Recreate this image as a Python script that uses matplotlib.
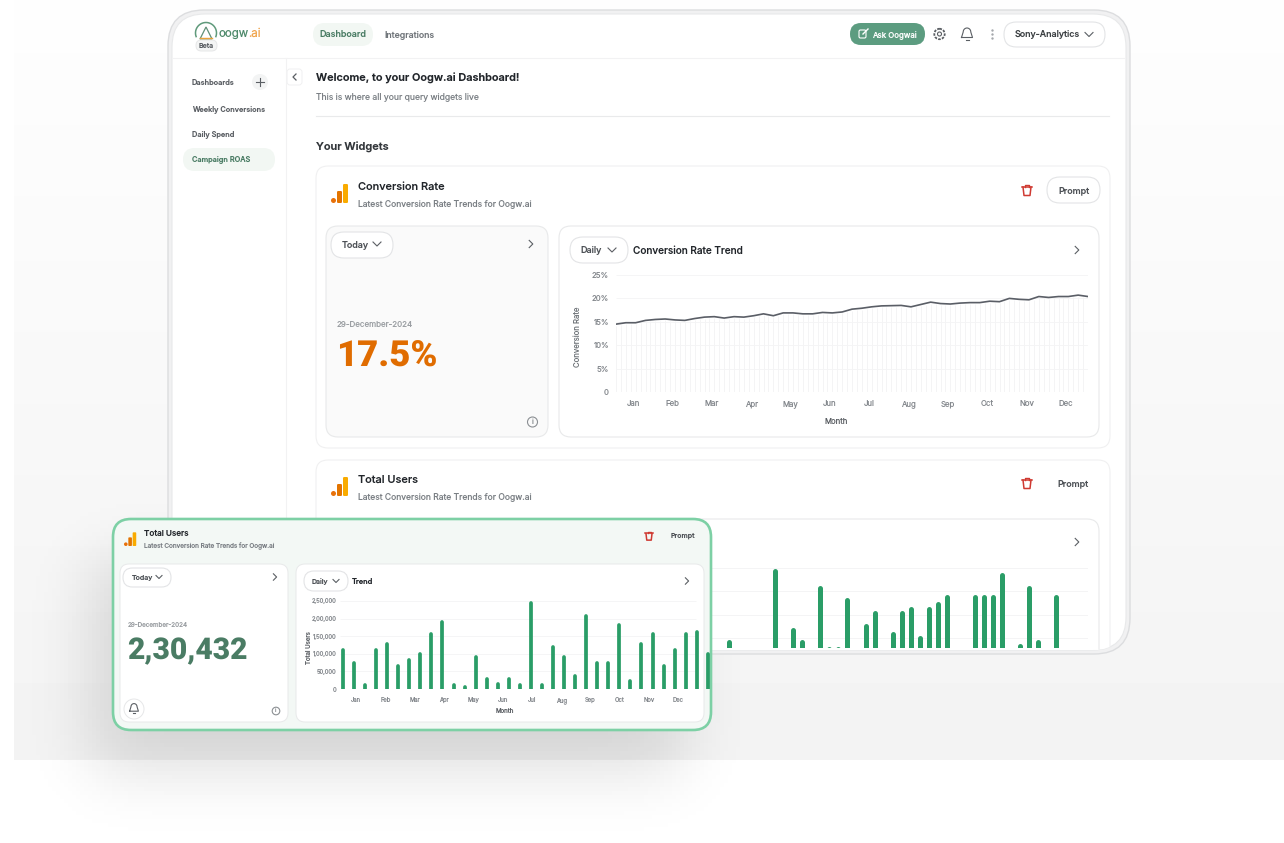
import math
import numpy as np
import matplotlib
matplotlib.use("Agg")
import matplotlib.pyplot as plt
from matplotlib.patches import FancyBboxPatch, Circle

plt.rcParams['font.family'] = ['Inter', 'DejaVu Sans']
plt.rcParams['text.hinting'] = 'no_autohint'

# data
months = ["Jan", "Feb", "Mar", "Apr", "May", "Jun", "Jul", "Aug", "Sep", "Oct", "Nov", "Dec"]
conversion_rate = [14.5, 14.8, 14.8, 15.3, 15.5, 15.6, 15.4, 15.3, 15.7, 16.0, 16.1, 15.8, 16.1,
                   16.0, 16.3, 16.7, 16.3, 16.9, 16.9, 16.7, 16.7, 17.0, 16.9, 17.1, 17.7, 17.9,
                   18.2, 18.4, 18.45, 18.5, 18.2, 18.7, 19.2, 18.9, 18.8, 19.0, 19.1, 19.1, 19.4,
                   19.3, 20.0, 19.8, 19.7, 20.4, 20.2, 20.4, 20.4, 20.7, 20.4]
rate_ticks = [0, 5, 10, 15, 20, 25]
rate_tick_labels = ["0", "5%", "10%", "15%", "20%", "25%"]

users_front = [115000, 80000, 17000, 115000, 132000, 70000, 88000, 105000, 160000, 195000, 15000,
               10000, 97000, 33000, 20000, 33000, 15000, 248000, 15000, 124000, 97000, 42000,
               213000, 80000, 80000, 186000, 27000, 133000, 160000, 70000, 115000, 160000,
               168000, 105000]
users_ticks = [0, 50000, 100000, 150000, 200000, 250000]
users_tick_labels = ["0", "50,000", "1,00,000", "1,50,000", "2,00,000", "2,50,000"]

# chart behind the floating card, 0 where the bar is hidden
users_back = [0, 0, 0, 0, 0, 0, 0, 0, 0, 0, 0, 0, 96000, 0, 0, 0, 0, 248000, 0, 122000, 96000, 0,
              212000, 81000, 81000, 186000, 0, 130000, 158000, 0, 113000, 158000, 167000, 105000,
              167000, 177000, 194000, 0, 0, 194000, 194000, 194000, 239000, 0, 88000, 212000,
              96000, 0, 194000, 0, 0, 0]

W, H = 1284, 843
GREEN = "#4a7c64"
DARK = "#22262b"
MID = "#5b5f64"
SOFT = "#7b8085"
EDGE = "#e9eaeb"
BAR = "#2a9d67"
fig = plt.figure(figsize=(W / 100, H / 100), dpi=100, facecolor="white")


def layer(z):
    a = fig.add_axes([0, 0, 1, 1], zorder=z)
    a.set_xlim(0, W)
    a.set_ylim(H, 0)
    a.axis("off")
    a.patch.set_alpha(0)
    return a


def chart_axes(x0, y0, x1, y1, z):
    a = fig.add_axes([x0 / W, 1 - y1 / H, (x1 - x0) / W, (y1 - y0) / H], zorder=z)
    a.patch.set_alpha(0)
    for s in a.spines.values():
        s.set_visible(False)
    return a


def box(a, x0, y0, x1, y1, r, fc="white", ec=EDGE, lw=0.8):
    p = FancyBboxPatch((x0, y0), x1 - x0, y1 - y0, boxstyle=f"round,pad=0,rounding_size={r}",
                       fc=fc, ec=ec, lw=lw)
    a.add_patch(p)
    return p


def txt(a, x, y, s, px, color=DARK, weight="normal", ha="left", **kw):
    a.text(x, y + 0.6, s, fontsize=px * 0.72, color=color, weight=weight, ha=ha, va="center", **kw)


def chev_down(a, x, y, s=4, color=MID):
    a.plot([x - s, x, x + s], [y - s / 2, y + s / 2, y - s / 2], color=color, lw=0.8)


def chev_right(a, x, y, s=3.6, color=MID):
    a.plot([x - s / 2, x + s / 2, x - s / 2], [y - s, y, y + s], color=color, lw=0.8)


def ga_icon(a, x, y, k=1.0):
    # x, y = bottom left of the little bars icon
    a.add_patch(Circle((x + 2.5 * k, y - 2.5 * k), 2.5 * k, fc="#e8710a", ec="none"))
    box(a, x + 6 * k, y - 12 * k, x + 11 * k, y, 1.2 * k, fc="#e37400", ec="none")
    box(a, x + 12 * k, y - 19 * k, x + 17 * k, y, 1.2 * k, fc="#f9ab00", ec="none")


def trash(a, x, y, k=1.0, color="#cf3a32"):
    a.plot([x - 4 * k, x - 3 * k, x + 3 * k, x + 4 * k], [y - 3 * k, y + 5.5 * k, y + 5.5 * k, y - 3 * k],
           color=color, lw=1.1)
    a.plot([x - 5 * k, x + 5 * k], [y - 3.5 * k, y - 3.5 * k], color=color, lw=1.1)
    a.plot([x - 2 * k, x - 2 * k, x + 2 * k, x + 2 * k], [y - 3.5 * k, y - 5 * k, y - 5 * k, y - 3.5 * k],
           color=color, lw=1.0)


def bell(a, x, y, k=1.0, color=MID):
    t = np.linspace(math.pi, 0, 20)
    xs = list(x + 3.8 * k * np.cos(t))
    ys = list(y - 1.5 * k - 4 * k * np.sin(t))
    a.plot([x - 5.5 * k] + xs + [x + 5.5 * k, x - 5.5 * k],
           [y + 4 * k] + ys + [y + 4 * k, y + 4 * k], color=color, lw=0.8)
    a.plot([x - 1.5 * k, x + 1.5 * k], [y + 6 * k, y + 6 * k], color=color, lw=0.8)


def info(a, x, y, r=5):
    a.add_patch(Circle((x, y), r, fc="none", ec="#8b8f93", lw=0.8))
    txt(a, x, y - 0.6, "i", r * 1.5, "#8b8f93", ha="center")


def pill(a, x0, y0, x1, y1, label, px, tx):
    box(a, x0, y0, x1, y1, (y1 - y0) / 2 - 0.1, fc="white", ec="#e3e4e6", lw=0.8)
    txt(a, tx, (y0 + y1) / 2, label, px, "#4d5156", "medium")


# page background, shadow and device frame
bg = layer(0)
grad = np.linspace(0.995, 0.953, 128).reshape(-1, 1)
bg.imshow(grad, extent=(14, W, 760, 0), cmap="gray", vmin=0, vmax=1, aspect="auto", zorder=0)
gx, gy = np.meshgrid(np.arange(0, 800, 4.0), np.arange(460, H, 4.0))
erf = np.vectorize(math.erf)
s = 45.0
shade = 0.25 * (erf((gx - 90) / s) - erf((gx - 680) / s)) * (erf((gy - 560) / s) - erf((gy - 770) / s))
rgba = np.zeros(shade.shape + (4,))
rgba[..., 3] = 0.13 * shade
bg.imshow(rgba, extent=(0, 800, H, 460), aspect="auto", zorder=1)
bg.set_xlim(0, W)
bg.set_ylim(H, 0)

box(bg, 168, 10, 1130, 654, 36, fc="#f1f1f2", ec="#dcdddf", lw=1.0)
device = box(bg, 172, 14, 1126, 650, 33, fc="white", ec="#e8e9ea", lw=0.8)

# top bar
bg.plot([173, 1125], [57.5, 57.5], color="#f2f2f3", lw=0.8)
bg.plot([285.5, 285.5], [58, 649], color="#f2f2f3", lw=0.8)
t = np.linspace(math.radians(200), math.radians(-20), 40)
bg.plot(206 + 10.5 * np.cos(t), 33 - 10.5 * np.sin(t), color="#5f9a7b", lw=1.1)
bg.fill([200, 206, 212], [39, 27, 39], fc="white", ec="#5f8f76", lw=0.9)
bg.plot([200, 212], [38, 38], color="#e9a23b", lw=1.0)
txt(bg, 219, 33, "oogw", 11.5, "#4e8a6b")
txt(bg, 248.5, 33, ".ai", 11.5, "#f0a44c")
box(bg, 196, 40, 217, 51, 5.4, fc="#f4f5f5", ec="#e6e7e8", lw=0.7)
txt(bg, 206.5, 45.5, "Beta", 7, MID, "medium", ha="center")

box(bg, 313, 23, 373, 46, 11.4, fc="#f2f7f3", ec="none")
txt(bg, 343, 34, "Dashboard", 9, GREEN, "medium", ha="center")
txt(bg, 384, 34.4, "Integrations", 8.8, "#70757a", "medium")

box(bg, 850, 23, 925, 45, 10.9, fc="#5c9c80", ec="none")
box(bg, 859, 30, 866, 38, 1.5, fc="none", ec="white", lw=0.8)
bg.plot([863, 868], [34, 29], color="white", lw=1.0)
txt(bg, 872, 33.5, "Ask Oogwai", 7.8, "white", "medium")
bg.add_patch(Circle((939.5, 34), 5.2, fc="none", ec=MID, lw=1.3, ls=(0, (1.4, 0.7))))
bg.add_patch(Circle((939.5, 34), 2, fc="none", ec=MID, lw=0.8))
bell(bg, 967, 33.5)
bg.scatter([992, 992, 992], [30, 34, 38], s=3, color="#a5a8ac", linewidths=0)
box(bg, 1004, 22, 1105, 47, 12.4, fc="white", ec="#e3e4e6", lw=0.8)
txt(bg, 1015, 34, "Sony-Analytics", 9, "#3c4043", "medium")
chev_down(bg, 1089, 34.5)

# side menu
txt(bg, 192, 82, "Dashboards", 7.4, MID, "medium")
bg.add_patch(Circle((260, 82), 8, fc="#f3f4f4", ec="none"))
bg.plot([256, 264], [82, 82], color=MID, lw=0.8)
bg.plot([260, 260], [78, 86], color=MID, lw=0.8)
txt(bg, 192, 109, "Weekly Conversions", 7.4, MID, "medium")
txt(bg, 192, 134.5, "Daily Spend", 7.4, MID, "medium")
box(bg, 183, 148, 275, 171, 11.4, fc="#f2f7f3", ec="none")
txt(bg, 192, 159.5, "Campaign ROAS", 7.4, GREEN, "medium")
box(bg, 287, 69, 302, 85, 3, fc="white", ec="#f0f0f1", lw=0.7)
bg.plot([296, 293, 296], [74, 77, 80], color=MID, lw=0.9)

txt(bg, 316, 78.2, "Welcome, to your Oogw.ai Dashboard!", 10.9, DARK, "semibold")
txt(bg, 316, 95.8, "This is where all your query widgets live", 8.6, SOFT)
bg.plot([316, 1109], [115.5, 115.5], color=EDGE, lw=0.8)
txt(bg, 316, 146.7, "Your Widgets", 11, "#33373b", "semibold")

# first widget
box(bg, 316, 166, 1110, 448, 12, ec="#f0f0f1")
ga_icon(bg, 331, 203)
txt(bg, 358, 186.2, "Conversion Rate", 11, DARK, "medium")
txt(bg, 358, 203, "Latest Conversion Rate Trends for Oogw.ai", 8.5, SOFT)
trash(bg, 1027, 190)
pill(bg, 1047, 177, 1100, 203, "Prompt", 9, 1058)
box(bg, 326, 226, 548, 437, 12, fc="#fafafa", ec="#e8e9ea")
pill(bg, 331, 232, 393, 258, "Today", 9, 342)
chev_down(bg, 377, 244)
chev_right(bg, 531, 244)
txt(bg, 337, 324, "29-December-2024", 8, "#9a9ea2")
txt(bg, 336, 356, "17.5%", 36.5, "#e06c00", "black", family="Roboto")
info(bg, 532.5, 422)
box(bg, 559, 226, 1099, 437, 12, ec="#e8e9ea")
pill(bg, 570, 237, 628, 263, "Daily", 9, 580)
chev_down(bg, 612, 250)
txt(bg, 633, 250.2, "Conversion Rate Trend", 10, DARK, "medium")
chev_right(bg, 1077, 250)

# second widget, cut off by the frame
w2 = box(bg, 316, 460, 1110, 680, 12, ec="#f0f0f1")
w2.set_clip_path(device)
ga_icon(bg, 331, 496)
txt(bg, 358, 479.2, "Total Users", 11, DARK, "medium")
txt(bg, 358, 496, "Latest Conversion Rate Trends for Oogw.ai", 8.5, SOFT)
trash(bg, 1027, 483)
txt(bg, 1073, 483, "Prompt", 9, "#4d5156", "medium", ha="center")
w3 = box(bg, 559, 519, 1099, 680, 12, ec="#e8e9ea")
w3.set_clip_path(device)
chev_right(bg, 1077, 542)

# conversion rate line chart
ax1 = chart_axes(616, 275, 1088, 392, 1)
xs = np.arange(len(conversion_rate))
vals = np.array(conversion_rate)
ax1.vlines(xs, 0, vals - 0.3, color="#f3f3f4", lw=0.6)
ax1.vlines(xs[:-1] + 0.5, 0, (vals[:-1] + vals[1:]) / 2 - 0.3, color="#f3f3f4", lw=0.6)
ax1.hlines(rate_ticks, 0, len(xs) - 1, color="#f4f4f5", lw=0.6)
ax1.plot(xs, vals, color="#5a5e66", lw=1.2)
ax1.set_xlim(0, len(xs) - 1)
ax1.set_ylim(0, 25)
ax1.set_yticks(rate_ticks, rate_tick_labels)
ax1.set_xticks(np.linspace(1.73, 45.76, 12), months)
ax1.tick_params(length=0, labelsize=5.6, labelcolor="#85898e", pad=5)
ax1.tick_params(axis="x", pad=6)
ax1.set_xlabel("Month", fontsize=5.6, color=MID)
ax1.xaxis.set_label_coords((836 - 616) / 472, -0.22)
ax1.set_ylabel("Conversion Rate", fontsize=5.6, color="#70757a")
ax1.yaxis.set_label_coords((582 - 616) / 472, 0.47)

# bars in the card behind, only the upper part fits in the frame
ax2 = chart_axes(616, 568, 1088, 648, 1)
back = np.array(users_back)
ax2.hlines(users_ticks[2:], -0.5, 51.5, color="#f4f4f5", lw=0.7)
ax2.vlines(np.arange(52)[back > 0], 0, back[back > 0] - 5000, color=BAR, lw=3.6, capstyle="round")
ax2.set_xlim(-0.5, 51.5)
ax2.set_ylim(79000, 250000)
ax2.set_xticks([])
ax2.set_yticks([])

# floating card
top = layer(2)
box(top, 113, 519, 711, 730, 18, fc="#f3f8f5", ec="#7dd0a5", lw=1.9)
ga_icon(top, 124, 546, 0.72)
txt(top, 144, 533, "Total Users", 8.2, DARK, "medium")
txt(top, 144, 545.5, "Latest Conversion Rate Trends for Oogw.ai", 6.4, SOFT)
trash(top, 649, 536, 0.75)
txt(top, 683, 535.5, "Prompt", 7, "#4d5156", "medium", ha="center")
box(top, 120, 564, 288, 722, 9, ec="#e8e9ea", lw=0.7)
pill(top, 123, 568, 171, 587, "Today", 7, 132)
chev_down(top, 159, 577, 3)
chev_right(top, 275, 577, 3.2)
txt(top, 128, 625, "29-December-2024", 6.3, "#9a9ea2")
txt(top, 127, 650, "2,30,432", 30, GREEN, "black", family="Roboto")
top.add_patch(Circle((134, 709), 10, fc="white", ec="#e6e7e8", lw=0.7))
bell(top, 134, 708, 0.8)
info(top, 276, 711, 3.8)
box(top, 296, 564, 704, 722, 9, ec="#e8e9ea", lw=0.7)
pill(top, 304, 571, 348, 591, "Daily", 7, 312)
chev_down(top, 336, 581, 3)
txt(top, 352, 581, "Trend", 7.5, DARK, "medium")
chev_right(top, 687, 581, 3.2)

# total users bars
ax3 = chart_axes(338, 601, 710, 689, 3)
fx = np.arange(len(users_front))
fv = np.array(users_front)
ax3.hlines(users_ticks, -0.3, 31.9, color="#f4f4f5", lw=0.6)
ax3.vlines(fx, 0, fv - 5000, color=BAR, lw=2.7, capstyle="round")
ax3.set_xlim(-0.45, 33.2)
ax3.set_ylim(0, 250000)
ax3.set_yticks(users_ticks, users_tick_labels)
ax3.set_xticks(np.linspace(1.18, 30.35, 12), months)
ax3.tick_params(length=0, labelsize=4.2, labelcolor="#85898e", pad=1)
ax3.tick_params(axis="x", pad=6)
ax3.set_xlabel("Month", fontsize=4.4, color=MID)
ax3.xaxis.set_label_coords((505 - 338) / 372, -0.22)
ax3.set_ylabel("Total Users", fontsize=4.4, color=MID)
ax3.yaxis.set_label_coords((312 - 338) / 372, 0.47)

fig.savefig("out.png", dpi=100, facecolor="white")
